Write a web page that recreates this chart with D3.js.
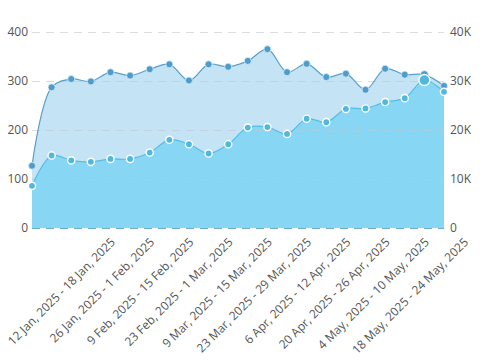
<!DOCTYPE html>
<html>
<head>
<meta charset="utf-8">
<script src="https://cdn.jsdelivr.net/npm/d3@7"></script>
<style>
  body { margin: 0; background: #fff; }
  text { font-family: "Open Sans", sans-serif; }
</style>
</head>
<body>
<div id="chart"></div>
<script>
// weekly periods (every other label from 12 Jan is shown on the axis)
var weeks = [
    "22 Dec, 2024 - 28 Dec, 2024", "29 Dec, 2024 - 4 Jan, 2025", "5 Jan, 2025 - 11 Jan, 2025",
    "12 Jan, 2025 - 18 Jan, 2025", "19 Jan, 2025 - 25 Jan, 2025", "26 Jan, 2025 - 1 Feb, 2025",
    "2 Feb, 2025 - 8 Feb, 2025", "9 Feb, 2025 - 15 Feb, 2025", "16 Feb, 2025 - 22 Feb, 2025",
    "23 Feb, 2025 - 1 Mar, 2025", "2 Mar, 2025 - 8 Mar, 2025", "9 Mar, 2025 - 15 Mar, 2025",
    "16 Mar, 2025 - 22 Mar, 2025", "23 Mar, 2025 - 29 Mar, 2025", "30 Mar, 2025 - 5 Apr, 2025",
    "6 Apr, 2025 - 12 Apr, 2025", "13 Apr, 2025 - 19 Apr, 2025", "20 Apr, 2025 - 26 Apr, 2025",
    "27 Apr, 2025 - 3 May, 2025", "4 May, 2025 - 10 May, 2025", "11 May, 2025 - 17 May, 2025",
    "18 May, 2025 - 24 May, 2025"
];
var labelWeeks = [3, 5, 7, 9, 11, 13, 15, 17, 19, 21];
// left axis series
var upperValues = [127, 287, 304, 299, 318, 311, 324, 334, 301, 334, 329, 341,
    365, 318, 335, 308, 315, 282, 325, 313, 313, 290];
// right axis series
var lowerValues = [8600, 14800, 13800, 13500, 14100, 14100, 15400, 18000, 17100, 15200, 17100, 20500,
    20600, 19200, 22300, 21600, 24300, 24400, 25700, 26500, 30200, 27800];
var leftTicks = [0, 100, 200, 300, 400];
var rightTicks = [0, 10000, 20000, 30000, 40000];
var hoverIndex = 20;

var W = 489, H = 361;
var plot = { left: 32, right: 444, top: 32, bottom: 228 };

var svg = d3.select("#chart").append("svg")
    .attr("width", W)
    .attr("height", H);

var idx = d3.range(weeks.length);
var x = d3.scalePoint().domain(idx).range([plot.left, plot.right]);
var yL = d3.scaleLinear().domain([0, 400]).range([plot.bottom, plot.top]);
var yR = d3.scaleLinear().domain([0, 40000]).range([plot.bottom, plot.top]);

var curve = d3.curveCatmullRom.alpha(0.5);

// upper area (left axis)
var upperArea = d3.area()
    .x(function (d, i) { return x(i); })
    .y0(plot.bottom)
    .y1(function (d) { return yL(d); })
    .curve(curve);
var upperLine = d3.line()
    .x(function (d, i) { return x(i); })
    .y(function (d) { return yL(d); })
    .curve(curve);

svg.append("path")
    .datum(upperValues)
    .attr("d", upperArea)
    .style("fill", "#c4e4f5");

// lower area (right axis)
var lowerArea = d3.area()
    .x(function (d, i) { return x(i); })
    .y0(plot.bottom)
    .y1(function (d) { return yR(d); })
    .curve(curve);
var lowerLine = d3.line()
    .x(function (d, i) { return x(i); })
    .y(function (d) { return yR(d); })
    .curve(curve);

svg.append("path")
    .datum(lowerValues)
    .attr("d", lowerArea)
    .style("fill", "#87d6f3");

// grid lines on top of the fills
svg.append("g")
    .selectAll("line")
    .data(leftTicks)
    .enter()
    .append("line")
    .attr("x1", plot.left)
    .attr("x2", plot.right)
    .attr("y1", function (d) { return yL(d) + 0.5; })
    .attr("y2", function (d) { return yL(d) + 0.5; })
    .style("stroke", function (d) { return d === 0 ? "#6aaecb" : "#bfc8cf"; })
    .style("stroke-opacity", function (d) { return d === 0 ? 1 : 0.6; })
    .style("stroke-dasharray", "8,6");

svg.append("path")
    .datum(upperValues)
    .attr("d", upperLine)
    .style("fill", "none")
    .style("stroke", "#5a9fc8")
    .style("stroke-width", 1.2);

svg.append("path")
    .datum(lowerValues)
    .attr("d", lowerLine)
    .style("fill", "none")
    .style("stroke", "#55bde6")
    .style("stroke-width", 1.2);

// markers
svg.append("g")
    .selectAll("circle")
    .data(upperValues)
    .enter()
    .append("circle")
    .attr("cx", function (d, i) { return x(i); })
    .attr("cy", function (d) { return yL(d); })
    .attr("r", function (d, i) { return i === hoverIndex ? 4 : 3.5; })
    .style("fill", "#4d9ccb")
    .style("stroke", "#d6ecf7")
    .style("stroke-width", 0.8);

svg.append("g")
    .selectAll("circle")
    .data(lowerValues)
    .enter()
    .append("circle")
    .attr("cx", function (d, i) { return x(i); })
    .attr("cy", function (d) { return yR(d); })
    .attr("r", function (d, i) { return i === hoverIndex ? 5.5 : 3.6; })
    .style("fill", "#4fb8e0")
    .style("stroke", "#ffffff")
    .style("stroke-width", 1.4);

// left axis labels
svg.append("g")
    .selectAll("text")
    .data(leftTicks)
    .enter()
    .append("text")
    .attr("x", 28)
    .attr("y", function (d) { return yL(d); })
    .attr("dy", "0.35em")
    .attr("text-anchor", "end")
    .style("font-size", "12px")
    .style("fill", "#555")
    .text(function (d) { return d; });

// right axis labels
svg.append("g")
    .selectAll("text")
    .data(rightTicks)
    .enter()
    .append("text")
    .attr("x", 450)
    .attr("y", function (d) { return yR(d); })
    .attr("dy", "0.35em")
    .attr("text-anchor", "start")
    .style("font-size", "12px")
    .style("fill", "#555")
    .text(function (d) { return d === 0 ? "0" : d / 1000 + "K"; });

// rotated x labels, every other week
svg.append("g")
    .selectAll("text")
    .data(labelWeeks)
    .enter()
    .append("text")
    .attr("transform", function (i) {
        return "translate(" + (x(i) + 25) + ",243) rotate(-45)";
    })
    .attr("text-anchor", "end")
    .style("font-size", "12px")
    .style("fill", "#555")
    .text(function (i) { return weeks[i]; });
</script>
</body>
</html>
